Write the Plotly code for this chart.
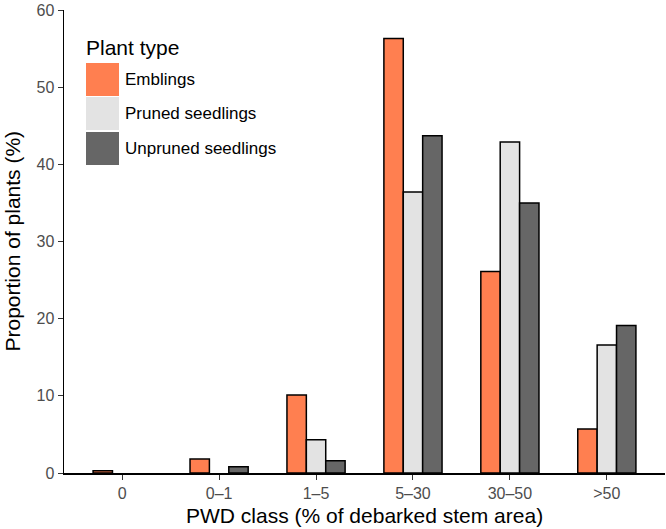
import plotly.graph_objects as go

categories = ["0", "0–1", "1–5", "5–30", "30–50", ">50"]
emblings = [0.3, 1.8, 10.1, 56.3, 26.1, 5.7]
pruned = [None, None, 4.3, 36.4, 42.9, 16.6]
unpruned = [None, 0.8, 1.6, 43.7, 35.0, 19.1]
series_names = ["Emblings", "Pruned seedlings", "Unpruned seedlings"]
colors = ["#FF7F50", "#E3E3E3", "#666666"]
y_ticks = [0, 10, 20, 30, 40, 50, 60]
x_title = "PWD class (% of debarked stem area)"
y_title = "Proportion of plants (%)"

W, H = 666, 529
L, R, T, B = 64, 1, 10, 56
pw, ph = W - L - R, H - T - B

FONT = "Liberation Sans, Arial, Helvetica, sans-serif"

fig = go.Figure()
for name, vals, col in zip(series_names, [emblings, pruned, unpruned], colors):
    fig.add_trace(go.Bar(
        x=categories, y=vals, name=name,
        marker=dict(color=col, line=dict(color="black", width=1.5)),
        showlegend=False, hoverinfo="skip",
    ))

def px2paper(x, y):
    return (x - L) / pw, (H - B - y) / ph

shapes = []
annotations = []
# axis titles
ax, ay = px2paper(L + pw / 2, 515)
annotations.append(dict(text=x_title, x=ax, y=ay, xref="paper", yref="paper",
                        xanchor="center", yanchor="middle", showarrow=False,
                        font=dict(size=21, color="black", family=FONT)))
bx, by = px2paper(12, T + ph / 2)
annotations.append(dict(text=y_title, x=bx, y=by, xref="paper", yref="paper",
                        xanchor="center", yanchor="middle", showarrow=False,
                        textangle=-90,
                        font=dict(size=21, color="black", family=FONT)))
# manual legend
tx, ty = px2paper(84, 47)
annotations.append(dict(text="Plant type", x=tx, y=ty, xref="paper", yref="paper",
                        xanchor="left", yanchor="middle", showarrow=False,
                        font=dict(size=21, color="black", family=FONT)))
boxes = [(63, 96), (97, 130), (132, 165)]
for (y0, y1), name, col in zip(boxes, series_names, colors):
    x0p, y0p = px2paper(86, y1)
    x1p, y1p = px2paper(119, y0)
    shapes.append(dict(type="rect", xref="paper", yref="paper", x0=x0p, x1=x1p,
                       y0=y0p, y1=y1p, fillcolor=col, line=dict(width=0)))
    lx, ly = px2paper(123, (y0 + y1) / 2)
    annotations.append(dict(text=name, x=lx, y=ly, xref="paper", yref="paper",
                            xanchor="left", yanchor="middle", showarrow=False,
                            font=dict(size=17, color="black", family=FONT)))

fig.update_layout(
    width=W, height=H,
    margin=dict(l=L, r=R, t=T, b=B),
    paper_bgcolor="white", plot_bgcolor="white",
    barmode="group", bargap=0.4, bargroupgap=0,
    font=dict(family=FONT),
    shapes=shapes, annotations=annotations,
    xaxis=dict(
        range=[-0.6, 5.6], showline=True, linecolor="black", linewidth=1.5,
        ticks="outside", ticklen=5, tickcolor="#333333", tickwidth=1,
        tickfont=dict(size=16, color="#4d4d4d"),
        showgrid=False, zeroline=False, automargin=False, fixedrange=True,
    ),
    yaxis=dict(
        range=[0, 60], tickvals=y_ticks, showline=True, linecolor="black",
        linewidth=1.5, ticks="outside", ticklen=5, tickcolor="#333333", tickwidth=1,
        tickfont=dict(size=16, color="#4d4d4d"), ticklabeloverflow="allow",
        showgrid=False, zeroline=False, automargin=False, fixedrange=True,
    ),
)

fig.write_html("out.html",
               config={"displayModeBar": False, "staticPlot": True},
               post_script="document.body.style.margin='0';document.body.style.overflow='hidden';")
